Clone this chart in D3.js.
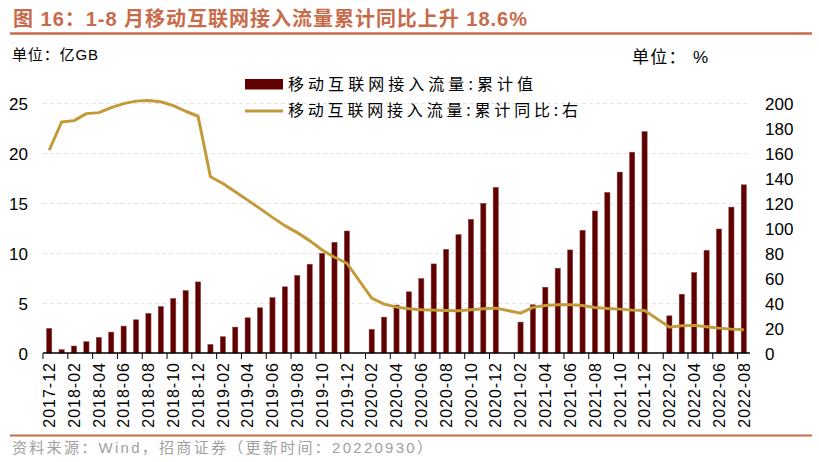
<!DOCTYPE html>
<html lang="zh">
<head>
<meta charset="UTF-8">
<title>移动互联网接入流量</title>
<script src="https://d3js.org/d3.v7.min.js"></script>
<style>
  body { margin: 0; background: #fff; }
  svg { display: block; }
  .title { font: bold 20px "Liberation Sans", "Noto Sans CJK SC", sans-serif; fill: #C86B4A; }
  .unit { font: 15px "Liberation Sans", "Noto Sans CJK SC", sans-serif; fill: #000; }
  .legend { font: 16px "Noto Sans CJK SC", sans-serif; fill: #000; }
  .axis text { font: 17px "Liberation Sans", Arial, sans-serif; fill: #000; }
  .xaxis text { font: 16px "Liberation Sans", Arial, sans-serif; fill: #000; letter-spacing: 1px; }
  .source { font: 15px "Liberation Sans", "Noto Sans CJK SC", sans-serif; fill: #A0A0A0; }
</style>
</head>
<body>
<svg width="819" height="462"></svg>
<script>
// 月份
const months = [
  "2017-12",
  "2018-01","2018-02","2018-03","2018-04","2018-05","2018-06","2018-07","2018-08","2018-09","2018-10","2018-11","2018-12",
  "2019-01","2019-02","2019-03","2019-04","2019-05","2019-06","2019-07","2019-08","2019-09","2019-10","2019-11","2019-12",
  "2020-01","2020-02","2020-03","2020-04","2020-05","2020-06","2020-07","2020-08","2020-09","2020-10","2020-11","2020-12",
  "2021-01","2021-02","2021-03","2021-04","2021-05","2021-06","2021-07","2021-08","2021-09","2021-10","2021-11","2021-12",
  "2022-01","2022-02","2022-03","2022-04","2022-05","2022-06","2022-07","2022-08"
];

// 累计值 (亿GB)
const cumValue = [
  2.46,
  0.33, 0.70, 1.13, 1.56, 2.09, 2.69, 3.32, 3.96, 4.65, 5.45, 6.25, 7.11,
  0.86, 1.63, 2.59, 3.52, 4.52, 5.54, 6.62, 7.75, 8.88, 9.97, 11.07, 12.2,
  null, 2.36, 3.59, 4.79, 6.12, 7.45, 8.91, 10.37, 11.84, 13.36, 14.96, 16.56,
  null, 3.09, 4.82, 6.58, 8.48, 10.31, 12.27, 14.2, 16.06, 18.09, 20.08, 22.14,
  null, 3.72, 5.88, 8.05, 10.27, 12.4, 14.59, 16.82
];

// 累计同比 (%)
const cumYoY = [
  162.2,
  184.8, 185.9, 191.5, 192.3, 196.3, 199.5, 201.5, 202, 201, 197.9, 193.4, 189.4,
  141, 135.6, 129, 122.3, 115.5, 108.5, 101.9, 96.3, 89.9, 82.4, 76.6, 71.8,
  null, 43.9, 39.1, 36.7, 35.4, 34.6, 34.3, 34.0, 33.8, 34.6, 35.4, 35.9,
  null, 31.9, 36.5, 38, 38.6, 38.6, 38, 36.4, 35.6, 35.1, 34.3, 34.0,
  null, 20.7, 21.8, 22.1, 21.0, 19.9, 19.1, 18.6
];

const leftTicks = [0, 5, 10, 15, 20, 25];
const rightTicks = [0, 20, 40, 60, 80, 100, 120, 140, 160, 180, 200];

const svg = d3.select("svg");
const pLeft = 43, pRight = 750, pTop = 103, pBottom = 353;

const x = d3.scaleBand().domain(months).range([pLeft, pRight])
  .paddingInner(0.58).paddingOuter(0.29);
const yL = d3.scaleLinear().domain([0, 25]).range([pBottom, pTop]);
const yR = d3.scaleLinear().domain([0, 200]).range([pBottom, pTop]);
const step = x.step();

// 标题
svg.append("text").attr("class", "title").attr("x", 13).attr("y", 26)
  .attr("textLength", 514).attr("lengthAdjust", "spacing")
  .text("图 16：1-8 月移动互联网接入流量累计同比上升 18.6%");
svg.append("line").attr("x1", 10).attr("x2", 812).attr("y1", 33.5).attr("y2", 33.5)
  .attr("stroke", "#C86B4A").attr("stroke-width", 2.5);

svg.append("text").attr("class", "unit").attr("x", 12).attr("y", 60)
  .attr("textLength", 86).attr("lengthAdjust", "spacing").text("单位：亿GB");
svg.append("text").attr("class", "unit").attr("x", 632).attr("y", 63)
  .style("font-size", "17px").attr("textLength", 76).attr("lengthAdjust", "spacing").text("单位： %");

// 网格线
svg.append("g")
  .attr("transform", `translate(${pLeft},0)`)
  .call(d3.axisLeft(yL).tickValues(leftTicks.slice(1)).tickSize(-(pRight - pLeft)).tickFormat(""))
  .call(g => g.select(".domain").remove())
  .call(g => g.selectAll("line").attr("stroke", "#E4E4E4").attr("stroke-dasharray", "4,3"));

// 柱
svg.append("g").selectAll("rect")
  .data(months.map((m, i) => ({ m, v: cumValue[i] })).filter(d => d.v != null))
  .join("rect")
  .attr("x", d => x(d.m))
  .attr("width", x.bandwidth())
  .attr("y", d => yL(d.v))
  .attr("height", d => pBottom - yL(d.v))
  .attr("fill", "#600000")
  .attr("stroke", "#8a4a4a")
  .attr("stroke-width", 0.5);

// 折线
const lineData = months.map((m, i) => ({ m, v: cumYoY[i] })).filter(d => d.v != null);
svg.append("path")
  .datum(lineData)
  .attr("fill", "none")
  .attr("stroke", "#C49A38")
  .attr("stroke-width", 3)
  .attr("stroke-linejoin", "round")
  .attr("d", d3.line().x(d => x(d.m) + x.bandwidth() / 2).y(d => yR(d.v)));

// 左轴
svg.append("g").attr("class", "axis")
  .attr("transform", `translate(${pLeft - 15},0)`)
  .call(d3.axisLeft(yL).tickValues(leftTicks).tickSize(0).tickPadding(0))
  .call(g => g.select(".domain").remove())
  .call(g => g.selectAll("text").attr("dy", "0.36em"));

// 右轴
svg.append("g").attr("class", "axis")
  .attr("transform", `translate(${pRight + 15},0)`)
  .call(d3.axisRight(yR).tickValues(rightTicks).tickSize(0).tickPadding(0))
  .call(g => g.select(".domain").remove())
  .call(g => g.selectAll("text").attr("dy", "0.36em"));

// X 轴
const xTicks = months.filter((m, i) => i % 2 === 0);
const xg = svg.append("g").attr("class", "xaxis")
  .attr("transform", `translate(0,${pBottom})`)
  .call(d3.axisBottom(x).tickValues(xTicks).tickSize(6).tickSizeOuter(0));
xg.select(".domain").attr("stroke", "#000").attr("stroke-width", 1.5)
  .attr("d", `M${pLeft},0H${pRight}`);
xg.selectAll(".tick line")
  .attr("transform", `translate(${-step / 2},0)`)
  .attr("stroke", "#000");
xg.selectAll(".tick text")
  .attr("transform", "rotate(-90)")
  .attr("text-anchor", "end")
  .attr("x", -9)
  .attr("y", 0)
  .attr("dy", "0.36em");

// 图例
const lg = svg.append("g");
lg.append("rect").attr("x", 245).attr("y", 79).attr("width", 38).attr("height", 10.5).attr("fill", "#600000");
lg.append("text").attr("class", "legend").attr("x", 288).attr("y", 90)
  .attr("textLength", 245).attr("lengthAdjust", "spacing").text("移动互联网接入流量:累计值");
lg.append("line").attr("x1", 245).attr("x2", 283).attr("y1", 111).attr("y2", 111)
  .attr("stroke", "#C49A38").attr("stroke-width", 3);
lg.append("text").attr("class", "legend").attr("x", 288).attr("y", 116)
  .attr("textLength", 290).attr("lengthAdjust", "spacing").text("移动互联网接入流量:累计同比:右");

// 来源
svg.append("line").attr("x1", 10).attr("x2", 812).attr("y1", 435.5).attr("y2", 435.5)
  .attr("stroke", "#C86B4A").attr("stroke-width", 2);
svg.append("text").attr("class", "source").attr("x", 12).attr("y", 453)
  .attr("textLength", 420).attr("lengthAdjust", "spacing")
  .text("资料来源：Wind，招商证券（更新时间：20220930）");
</script>
</body>
</html>
